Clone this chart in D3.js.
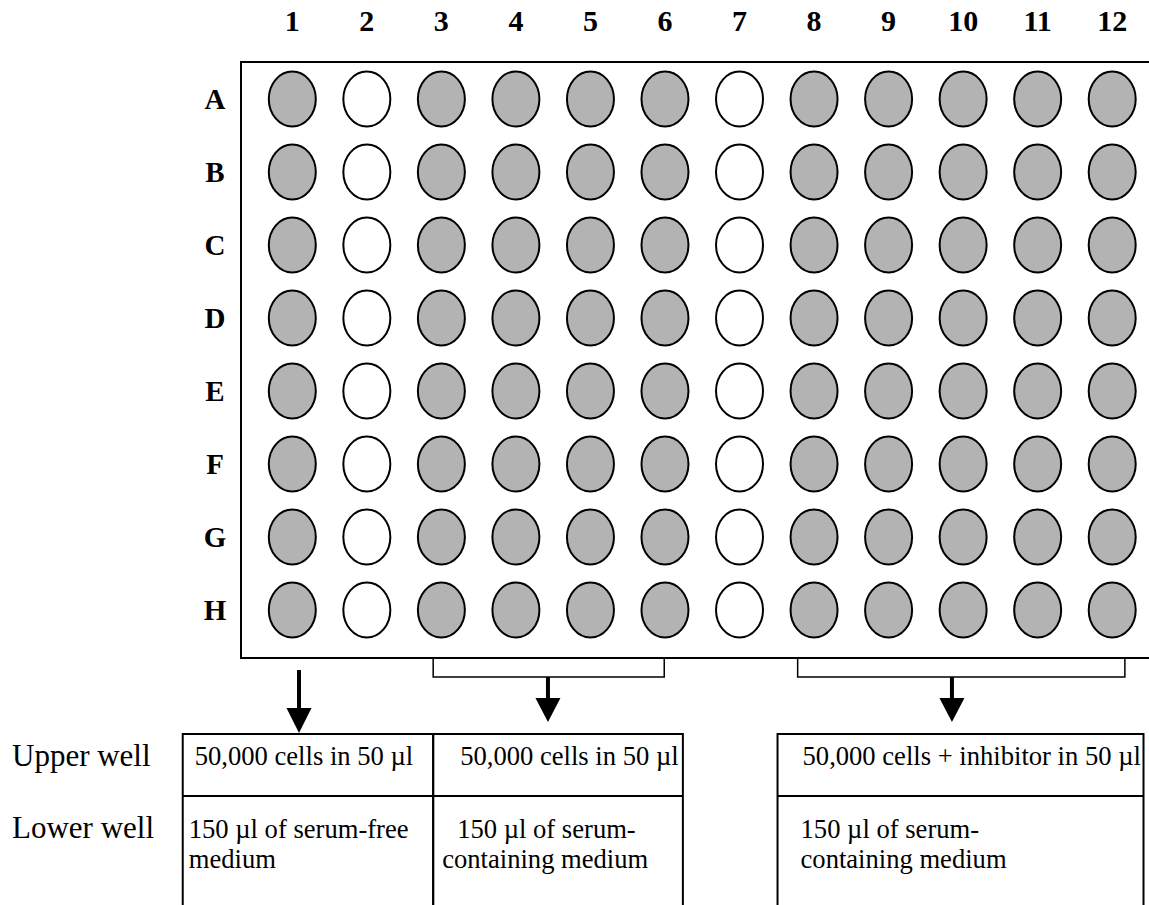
<!DOCTYPE html>
<html><head><meta charset="utf-8">
<script src="https://cdn.jsdelivr.net/npm/d3@7"></script>
<style>body{margin:0;background:#fff}svg{display:block}</style>
</head><body>
<svg id="chart" width="1149" height="905"></svg>
<script>
// ---- data ----
const columns = [1,2,3,4,5,6,7,8,9,10,11,12];
const rows = ["A","B","C","D","E","F","G","H"];
const emptyColumns = [2, 7];
// bracket spans (column units) grouping the treated columns
const bracketSpans = [[2.89, 5.99], [7.78, 12.17]];
const arrowColumns = [1.09, 4.43, 9.85];
const sideLabels = ["Upper well", "Lower well"];
const upperTexts = ["50,000 cells in 50 µl", "50,000 cells in 50 µl", "50,000 cells + inhibitor in 50 µl"];
const lowerTexts = [["150 µl of serum-free", "medium"], ["150 µl of serum-", "containing medium"], ["150 µl of serum-", "containing medium"]];
const boxSpans = [[-0.47, 2.89], [2.89, 6.24], [7.51, 12.42]];

// ---- layout / style ----
const L = {
  plateLeft: 241, plateTop: 62, plateBottom: 658, plateRight: 1170,
  rx: 23.5, ry: 27.5,
  colLabelY: 31, rowLabelX: 215,
  bracketY: 677,
  boxTop: 734, boxMid: 796, boxBottom: 920,
  upperBase: 765, lowerBase1: 838, lowerBase2: 868,
  textPad: [{u: 12, l: [6, 6]}, {u: 27, l: [24, 9]}, {u: 25, l: [23, 23]}]
};
const serif = "'Liberation Serif','Times New Roman',Times,serif";

const svg = d3.select("#chart");
const x = d3.scaleLinear().domain([1, 12]).range([292.3, 1112.2]);
const y = d3.scalePoint().domain(rows).range([99, 610]);

// plate outline (right edge runs off the picture)
svg.append("path")
  .attr("d", `M${L.plateRight},${L.plateTop}H${L.plateLeft}V${L.plateBottom}H${L.plateRight}`)
  .attr("fill", "none").attr("stroke", "#000").attr("stroke-width", 2);

// wells
const wells = [];
rows.forEach(r => columns.forEach(c => wells.push({r, c, empty: emptyColumns.includes(c)})));
svg.append("g").selectAll("ellipse").data(wells).join("ellipse")
  .attr("cx", d => x(d.c)).attr("cy", d => y(d.r))
  .attr("rx", L.rx).attr("ry", L.ry)
  .attr("fill", d => d.empty ? "#fff" : "#b3b3b3")
  .attr("stroke", "#000").attr("stroke-width", 2);

// column labels
svg.append("g").selectAll("text").data(columns).join("text")
  .attr("x", d => x(d)).attr("y", L.colLabelY)
  .attr("text-anchor", "middle")
  .attr("font-family", serif).attr("font-weight", "bold").attr("font-size", 30)
  .text(d => d);

// row labels
svg.append("g").selectAll("text").data(rows).join("text")
  .attr("x", L.rowLabelX).attr("y", d => y(d) + 9.5)
  .attr("text-anchor", "middle")
  .attr("font-family", serif).attr("font-weight", "bold").attr("font-size", 29)
  .text(d => d);

// brackets
svg.append("g").selectAll("path").data(bracketSpans).join("path")
  .attr("d", d => `M${x(d[0])},${L.plateBottom}V${L.bracketY}H${x(d[1])}V${L.plateBottom}`)
  .attr("fill", "none").attr("stroke", "#000").attr("stroke-width", 1.5);

// arrows
const arrowDefs = arrowColumns.map((c, i) => i === 0
  ? {c, y0: 670, head: 708, tip: 733}
  : {c, y0: L.bracketY, head: 698, tip: 722});
const ag = svg.append("g");
ag.selectAll("line").data(arrowDefs).join("line")
  .attr("x1", d => x(d.c)).attr("x2", d => x(d.c))
  .attr("y1", d => d.y0).attr("y2", d => d.head + 2)
  .attr("stroke", "#000").attr("stroke-width", 4);
ag.selectAll("path").data(arrowDefs).join("path")
  .attr("d", d => `M${x(d.c) - 12.5},${d.head}H${x(d.c) + 12.5}L${x(d.c)},${d.tip}Z`)
  .attr("fill", "#000");

// boxes
const bg = svg.append("g");
boxSpans.forEach((s, i) => {
  const x0 = x(s[0]), x1 = x(s[1]);
  bg.append("path")
    .attr("d", `M${x0},${L.boxBottom}V${L.boxTop}H${x1}V${L.boxBottom}M${x0},${L.boxMid}H${x1}`)
    .attr("fill", "none").attr("stroke", "#000").attr("stroke-width", 2);
  bg.append("text").attr("x", x0 + L.textPad[i].u).attr("y", L.upperBase)
    .attr("font-family", serif).attr("font-size", 26.6).text(upperTexts[i]);
  lowerTexts[i].forEach((t, j) => {
    bg.append("text").attr("x", x0 + L.textPad[i].l[j]).attr("y", j === 0 ? L.lowerBase1 : L.lowerBase2)
      .attr("font-family", serif).attr("font-size", 26.6).text(t);
  });
});

// side labels
svg.append("g").selectAll("text").data(sideLabels).join("text")
  .attr("x", 12).attr("y", (d, i) => i === 0 ? L.upperBase + 1 : L.lowerBase1)
  .attr("font-family", serif).attr("font-size", 31)
  .text(d => d);
</script>
</body></html>
